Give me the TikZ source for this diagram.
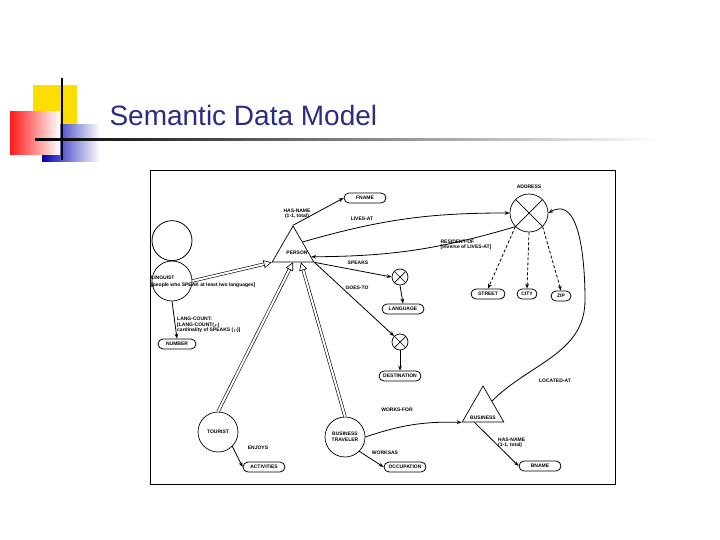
\documentclass[tikz,border=0pt]{standalone}
\usepackage{fontspec}
\setmainfont{Liberation Sans}
\usetikzlibrary{shapes.geometric,shapes.misc,arrows.meta,calc}
\definecolor{titleblue}{RGB}{44,44,128}
\begin{document}
\begin{tikzpicture}[x=1pt,y=-1pt,
  lbl/.style={font=\fontsize{5}{5.5}\selectfont\bfseries,align=left,inner sep=1pt},
  box/.style={draw,rounded rectangle,font=\fontsize{5}{5.5}\selectfont\bfseries,
    minimum height=10pt,minimum width=44pt,inner sep=1pt,line width=0.8pt},
  ent/.style={draw,circle,minimum size=40pt,inner sep=0pt,line width=0.7pt,
    font=\fontsize{5}{5.5}\selectfont\bfseries,align=center},
  tri/.style={draw,isosceles triangle,shape border rotate=90,isosceles triangle apex angle=60,
    minimum height=36pt,inner sep=0pt,line width=0.7pt},
  agg/.style={draw,circle,minimum size=#1,inner sep=0pt,line width=0.7pt,
    path picture={\draw (path picture bounding box.north west)--(path picture bounding box.south east)
      (path picture bounding box.north east)--(path picture bounding box.south west);}},
  fn/.style={-{Stealth[length=5pt]},line width=0.8pt},
  isa/.style={double,double distance=2pt,line width=0.6pt,-{Triangle[open,length=8pt,width=8pt]}}]
\useasboundingbox (0,0) rectangle (720,540);
% slide decoration
\fill[yellow!80!orange] (33,85) rectangle (77,130);
\shade[left color=blue!70!black,right color=white] (42,125) rectangle (100,162);
\shade[left color=red!90,right color=white] (10,112) rectangle (60,155);
\draw[line width=1.2pt] (62,78) -- (62,160);
\shade[left color=black,right color=white] (35,139) rectangle (660,141);
\node[anchor=west,text=titleblue,font=\fontsize{28}{32}\selectfont] (title) at (106,115) {Semantic Data Model};
\draw[line width=0.6pt] (150,170) rectangle (615,484);
% entities
\node[ent] (linguist) at (172,281) {};
\node[tri] (person) at (293,250) {};
\node[lbl] (personl) at (297,253) {PERSON};
\node[box] (fname) at (365,198) {FNAME};
\node[agg=38pt] (address) at (529,213) {};
\node[lbl] (addressl) at (529,187) {ADDRESS};
\node[agg=16pt] (agg1) at (400,277) {};
\node[agg=16pt] (agg2) at (400,342) {};
\node[box] (language) at (403,309) {LANGUAGE};
\node[box] (destination) at (400,376) {DESTINATION};
\node[box,minimum width=36pt] (street) at (488,294) {STREET};
\node[box,minimum width=22pt] (city) at (527,294) {CITY};
\node[box,minimum width=22pt] (zip) at (561,296) {ZIP};
\node[lbl,anchor=west] (linguistl) at (150,282) {LINGUIST\\[1pt]{[}people who SPEAK at least two languages{]}};
\node[box,minimum width=40pt] (number) at (177,344) {NUMBER};
\node[ent] (tourist) at (218,432) {TOURIST};
\node[ent] (btrav) at (345,437) {BUSINESS\\TRAVELER};
\node[tri] (business) at (483,410) {};
\node[lbl] (businessl) at (483,418) {BUSINESS};
\node[box] (bname) at (540,466) {BNAME};
\node[box] (activities) at (264,467) {ACTIVITIES};
\node[box] (occupation) at (405,467) {OCCUPATION};
% labels
\node[lbl,align=center] (hasname) at (297,214) {HAS-NAME\\(1-1, total)};
\node[lbl] (livesat) at (362,219) {LIVES-AT};
\node[lbl] (resof) at (466,245) {RESIDENT-OF\\{[}inverse of LIVES-AT{]}};
\node[lbl] (speaks) at (358,263) {SPEAKS};
\node[lbl] (goesto) at (357,288) {GOES-TO};
\node[lbl,anchor=west] (langcount) at (176,325) {LANG-COUNT:\\{[}LANG-COUNT($p$)\\cardinality of SPEAKS ($p$){]}};
\node[lbl] (locatedat) at (555,381) {LOCATED-AT};
\node[lbl] (worksfor) at (397,410) {WORKS-FOR};
\node[lbl,anchor=west] (hasname2) at (497,443) {HAS-NAME\\(1-1, total)};
\node[lbl] (enjoys) at (258,448) {ENJOYS};
\node[lbl] (worksas) at (385,453) {WORKSAS};
% connectors
\draw[fn] (person.apex) -- (fname.west);
\draw[fn] ($(person.apex)!0.45!(person.right corner)$) to[bend left=8] (address.west);
\draw[fn] (address.south west) to[bend left=8] ($(person.apex)!0.85!(person.right corner)$);
\draw[fn] (person.right corner) -- (agg1.west);
\draw[fn] (person.right corner) -- (agg2.north west);
\draw[fn] (agg1.south) -- (language.north);
\draw[fn] (agg2.south) -- (destination.north);
\draw[fn,densely dashed] (address.south west) -- (street.north);
\draw[fn,densely dashed] (address.south) -- (city.north);
\draw[fn,densely dashed] (address.south east) -- (zip.north);
\draw[fn] (business.north east) to[out=45,in=-90] (585,300) to[out=90,in=30] (address.east);
\draw[fn] (btrav.east) to[bend left=10] (business.left corner);
\draw[fn] ($(business.left corner)!0.3!(business.right corner)$) -- (bname.west);
\draw[fn] (tourist.south east) -- (activities.west);
\draw[fn] (btrav.south east) -- (occupation.west);
\draw[fn] (linguist.south) -- (number.north);
\draw[isa] (linguist.east) -- (person.left corner);
\draw[isa] (tourist.north) -- (person.south);
\draw[isa] (btrav.north) -- ($(person.south)+(8,0)$);
\draw[line width=0.8pt,black] (linguist.north) arc[start angle=90,end angle=450,radius=20];
\end{tikzpicture}
\end{document}
